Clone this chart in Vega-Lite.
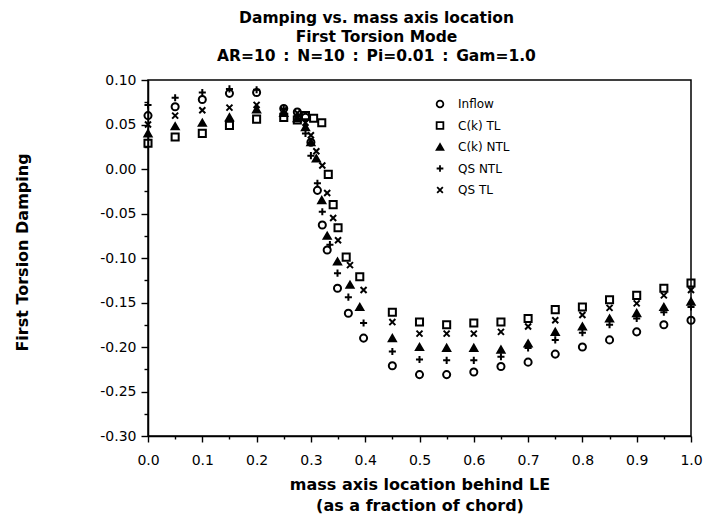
{
  "$schema": "https://vega.github.io/schema/vega-lite/v6.json",
  "autosize": "none",
  "padding": {"left": 148, "top": 80, "right": 12, "bottom": 81},
  "width": 543,
  "height": 356,
  "background": "white",
  "title": {
    "text": ["Damping vs. mass axis location", "First Torsion Mode", "AR=10\u2002:\u2002N=10\u2002:\u2002Pi=0.01\u2002:\u2002Gam=1.0"],
    "font": "DejaVu Sans",
    "fontSize": 15.5,
    "fontWeight": "bold",
    "color": "black",
    "lineHeight": 19,
    "anchor": "middle",
    "dx": -43,
    "offset": 9
  },
  "config": {
    "view": {"stroke": "black", "strokeWidth": 1.5},
    "axis": {
      "domainColor": "black",
      "domainWidth": 1.5,
      "tickColor": "black",
      "tickWidth": 1.4,
      "grid": false,
      "labelFont": "DejaVu Sans",
      "labelFontSize": 14,
      "labelColor": "black",
      "titleFont": "DejaVu Sans",
      "titleFontWeight": "bold",
      "titleColor": "black",
      "labelOverlap": false,
      "labelFlush": false
    },
    "legend": {
      "labelFont": "DejaVu Sans",
      "labelFontSize": 12,
      "labelColor": "black"
    }
  },
  "data": {
    "values": [
      {"s": "Inflow", "x": 0.0, "y": 0.060},
      {"s": "Inflow", "x": 0.05, "y": 0.070},
      {"s": "Inflow", "x": 0.1, "y": 0.078},
      {"s": "Inflow", "x": 0.15, "y": 0.085},
      {"s": "Inflow", "x": 0.2, "y": 0.086},
      {"s": "Inflow", "x": 0.25, "y": 0.068},
      {"s": "Inflow", "x": 0.275, "y": 0.064},
      {"s": "Inflow", "x": 0.29, "y": 0.058},
      {"s": "Inflow", "x": 0.30, "y": 0.030},
      {"s": "Inflow", "x": 0.312, "y": -0.024},
      {"s": "Inflow", "x": 0.321, "y": -0.063},
      {"s": "Inflow", "x": 0.33, "y": -0.091},
      {"s": "Inflow", "x": 0.349, "y": -0.134},
      {"s": "Inflow", "x": 0.369, "y": -0.162},
      {"s": "Inflow", "x": 0.397, "y": -0.190},
      {"s": "Inflow", "x": 0.45, "y": -0.221},
      {"s": "Inflow", "x": 0.5, "y": -0.231},
      {"s": "Inflow", "x": 0.55, "y": -0.231},
      {"s": "Inflow", "x": 0.6, "y": -0.228},
      {"s": "Inflow", "x": 0.65, "y": -0.222},
      {"s": "Inflow", "x": 0.7, "y": -0.217},
      {"s": "Inflow", "x": 0.75, "y": -0.208},
      {"s": "Inflow", "x": 0.8, "y": -0.200},
      {"s": "Inflow", "x": 0.85, "y": -0.192},
      {"s": "Inflow", "x": 0.9, "y": -0.183},
      {"s": "Inflow", "x": 0.95, "y": -0.175},
      {"s": "Inflow", "x": 1.0, "y": -0.170},

      {"s": "C(k) TL", "x": 0.0, "y": 0.029},
      {"s": "C(k) TL", "x": 0.05, "y": 0.036},
      {"s": "C(k) TL", "x": 0.1, "y": 0.040},
      {"s": "C(k) TL", "x": 0.15, "y": 0.049},
      {"s": "C(k) TL", "x": 0.2, "y": 0.056},
      {"s": "C(k) TL", "x": 0.25, "y": 0.058},
      {"s": "C(k) TL", "x": 0.275, "y": 0.055},
      {"s": "C(k) TL", "x": 0.29, "y": 0.060},
      {"s": "C(k) TL", "x": 0.305, "y": 0.057},
      {"s": "C(k) TL", "x": 0.32, "y": 0.052},
      {"s": "C(k) TL", "x": 0.332, "y": -0.006},
      {"s": "C(k) TL", "x": 0.341, "y": -0.040},
      {"s": "C(k) TL", "x": 0.35, "y": -0.066},
      {"s": "C(k) TL", "x": 0.365, "y": -0.099},
      {"s": "C(k) TL", "x": 0.39, "y": -0.121},
      {"s": "C(k) TL", "x": 0.45, "y": -0.161},
      {"s": "C(k) TL", "x": 0.5, "y": -0.172},
      {"s": "C(k) TL", "x": 0.55, "y": -0.175},
      {"s": "C(k) TL", "x": 0.6, "y": -0.173},
      {"s": "C(k) TL", "x": 0.65, "y": -0.172},
      {"s": "C(k) TL", "x": 0.7, "y": -0.168},
      {"s": "C(k) TL", "x": 0.75, "y": -0.158},
      {"s": "C(k) TL", "x": 0.8, "y": -0.155},
      {"s": "C(k) TL", "x": 0.85, "y": -0.147},
      {"s": "C(k) TL", "x": 0.9, "y": -0.142},
      {"s": "C(k) TL", "x": 0.95, "y": -0.134},
      {"s": "C(k) TL", "x": 1.0, "y": -0.128},

      {"s": "C(k) NTL", "x": 0.0, "y": 0.040},
      {"s": "C(k) NTL", "x": 0.05, "y": 0.048},
      {"s": "C(k) NTL", "x": 0.1, "y": 0.052},
      {"s": "C(k) NTL", "x": 0.15, "y": 0.058},
      {"s": "C(k) NTL", "x": 0.2, "y": 0.067},
      {"s": "C(k) NTL", "x": 0.25, "y": 0.063},
      {"s": "C(k) NTL", "x": 0.275, "y": 0.057},
      {"s": "C(k) NTL", "x": 0.29, "y": 0.047},
      {"s": "C(k) NTL", "x": 0.30, "y": 0.030},
      {"s": "C(k) NTL", "x": 0.31, "y": 0.012},
      {"s": "C(k) NTL", "x": 0.32, "y": -0.035},
      {"s": "C(k) NTL", "x": 0.33, "y": -0.075},
      {"s": "C(k) NTL", "x": 0.349, "y": -0.104},
      {"s": "C(k) NTL", "x": 0.372, "y": -0.130},
      {"s": "C(k) NTL", "x": 0.39, "y": -0.155},
      {"s": "C(k) NTL", "x": 0.45, "y": -0.190},
      {"s": "C(k) NTL", "x": 0.5, "y": -0.200},
      {"s": "C(k) NTL", "x": 0.55, "y": -0.201},
      {"s": "C(k) NTL", "x": 0.6, "y": -0.201},
      {"s": "C(k) NTL", "x": 0.65, "y": -0.203},
      {"s": "C(k) NTL", "x": 0.7, "y": -0.196},
      {"s": "C(k) NTL", "x": 0.75, "y": -0.183},
      {"s": "C(k) NTL", "x": 0.8, "y": -0.177},
      {"s": "C(k) NTL", "x": 0.85, "y": -0.168},
      {"s": "C(k) NTL", "x": 0.9, "y": -0.162},
      {"s": "C(k) NTL", "x": 0.95, "y": -0.155},
      {"s": "C(k) NTL", "x": 1.0, "y": -0.149},

      {"s": "QS NTL", "x": 0.0, "y": 0.072},
      {"s": "QS NTL", "x": 0.05, "y": 0.080},
      {"s": "QS NTL", "x": 0.1, "y": 0.086},
      {"s": "QS NTL", "x": 0.15, "y": 0.090},
      {"s": "QS NTL", "x": 0.2, "y": 0.089},
      {"s": "QS NTL", "x": 0.25, "y": 0.067},
      {"s": "QS NTL", "x": 0.275, "y": 0.060},
      {"s": "QS NTL", "x": 0.29, "y": 0.040},
      {"s": "QS NTL", "x": 0.30, "y": 0.015},
      {"s": "QS NTL", "x": 0.312, "y": -0.016},
      {"s": "QS NTL", "x": 0.321, "y": -0.048},
      {"s": "QS NTL", "x": 0.335, "y": -0.085},
      {"s": "QS NTL", "x": 0.349, "y": -0.117},
      {"s": "QS NTL", "x": 0.369, "y": -0.144},
      {"s": "QS NTL", "x": 0.397, "y": -0.173},
      {"s": "QS NTL", "x": 0.45, "y": -0.205},
      {"s": "QS NTL", "x": 0.5, "y": -0.214},
      {"s": "QS NTL", "x": 0.55, "y": -0.215},
      {"s": "QS NTL", "x": 0.6, "y": -0.215},
      {"s": "QS NTL", "x": 0.65, "y": -0.211},
      {"s": "QS NTL", "x": 0.7, "y": -0.201},
      {"s": "QS NTL", "x": 0.75, "y": -0.192},
      {"s": "QS NTL", "x": 0.8, "y": -0.184},
      {"s": "QS NTL", "x": 0.85, "y": -0.175},
      {"s": "QS NTL", "x": 0.9, "y": -0.168},
      {"s": "QS NTL", "x": 0.95, "y": -0.161},
      {"s": "QS NTL", "x": 1.0, "y": -0.155},

      {"s": "QS TL", "x": 0.0, "y": 0.050},
      {"s": "QS TL", "x": 0.05, "y": 0.060},
      {"s": "QS TL", "x": 0.1, "y": 0.066},
      {"s": "QS TL", "x": 0.15, "y": 0.069},
      {"s": "QS TL", "x": 0.2, "y": 0.072},
      {"s": "QS TL", "x": 0.25, "y": 0.066},
      {"s": "QS TL", "x": 0.275, "y": 0.063},
      {"s": "QS TL", "x": 0.29, "y": 0.052},
      {"s": "QS TL", "x": 0.30, "y": 0.038},
      {"s": "QS TL", "x": 0.31, "y": 0.020},
      {"s": "QS TL", "x": 0.321, "y": 0.004},
      {"s": "QS TL", "x": 0.33, "y": -0.027},
      {"s": "QS TL", "x": 0.341, "y": -0.055},
      {"s": "QS TL", "x": 0.35, "y": -0.080},
      {"s": "QS TL", "x": 0.372, "y": -0.108},
      {"s": "QS TL", "x": 0.397, "y": -0.136},
      {"s": "QS TL", "x": 0.45, "y": -0.172},
      {"s": "QS TL", "x": 0.5, "y": -0.185},
      {"s": "QS TL", "x": 0.55, "y": -0.185},
      {"s": "QS TL", "x": 0.6, "y": -0.185},
      {"s": "QS TL", "x": 0.65, "y": -0.183},
      {"s": "QS TL", "x": 0.7, "y": -0.177},
      {"s": "QS TL", "x": 0.75, "y": -0.170},
      {"s": "QS TL", "x": 0.8, "y": -0.164},
      {"s": "QS TL", "x": 0.85, "y": -0.156},
      {"s": "QS TL", "x": 0.9, "y": -0.151},
      {"s": "QS TL", "x": 0.95, "y": -0.142},
      {"s": "QS TL", "x": 1.0, "y": -0.136}
    ]
  },
  "mark": {"type": "point", "filled": false, "stroke": "black", "strokeWidth": 2, "size": 50, "opacity": 1, "clip": false},
  "encoding": {
    "x": {
      "field": "x",
      "type": "quantitative",
      "scale": {"domain": [0, 1], "nice": false, "zero": false},
      "axis": {
        "values": [0, 0.05, 0.1, 0.15, 0.2, 0.25, 0.3, 0.35, 0.4, 0.45, 0.5, 0.55, 0.6, 0.65, 0.7, 0.75, 0.8, 0.85, 0.9, 0.95, 1.0],
        "labelExpr": "round(datum.value*100) % 10 === 0 ? format(datum.value, '.1f') : ''",
        "tickSize": {"condition": {"test": "round(datum.value*100) % 10 === 0", "value": 6}, "value": 3},
        "labelPadding": 11,
        "title": ["mass axis location behind LE", "(as a fraction of chord)"],
        "titleFontSize": 16,
        "titleLineHeight": 21,
        "titleBaseline": "top",
        "titleY": 40
      }
    },
    "y": {
      "field": "y",
      "type": "quantitative",
      "scale": {"domain": [-0.3, 0.1], "nice": false, "zero": false},
      "axis": {
        "values": [-0.3, -0.275, -0.25, -0.225, -0.2, -0.175, -0.15, -0.125, -0.1, -0.075, -0.05, -0.025, 0, 0.025, 0.05, 0.075, 0.1],
        "labelExpr": "round(datum.value*1000) % 50 === 0 ? replace(format(datum.value, '.2f'), '\u2212', '-') : ''",
        "tickSize": {"condition": {"test": "round(datum.value*1000) % 50 === 0", "value": 7}, "value": 4},
        "labelPadding": 5,
        "title": "First Torsion Damping",
        "titleFontSize": 16,
        "titleAngle": -90,
        "titleAlign": "center",
        "titleBaseline": "alphabetic",
        "titleX": -121,
        "titleY": 172
      }
    },
    "shape": {
      "field": "s",
      "type": "nominal",
      "scale": {
        "domain": ["Inflow", "C(k) TL", "C(k) NTL", "QS NTL", "QS TL"],
        "range": ["circle", "square", "triangle-up", "M-1,0H1M0,-1V1", "M-0.85,-0.85L0.85,0.85M-0.85,0.85L0.85,-0.85"]
      },
      "legend": {"title": null, "orient": "none", "legendX": 286, "legendY": 18, "rowPadding": 7.5, "labelOffset": 12, "symbolStrokeWidth": 1.8, "symbolSize": 45}
    },
    "fill": {
      "field": "s",
      "type": "nominal",
      "scale": {
        "domain": ["Inflow", "C(k) TL", "C(k) NTL", "QS NTL", "QS TL"],
        "range": ["transparent", "transparent", "black", "transparent", "transparent"]
      },
      "legend": {"title": null, "orient": "none", "legendX": 286, "legendY": 18, "rowPadding": 7.5, "labelOffset": 12, "symbolStrokeWidth": 1.8, "symbolSize": 45}
    }
  }
}
